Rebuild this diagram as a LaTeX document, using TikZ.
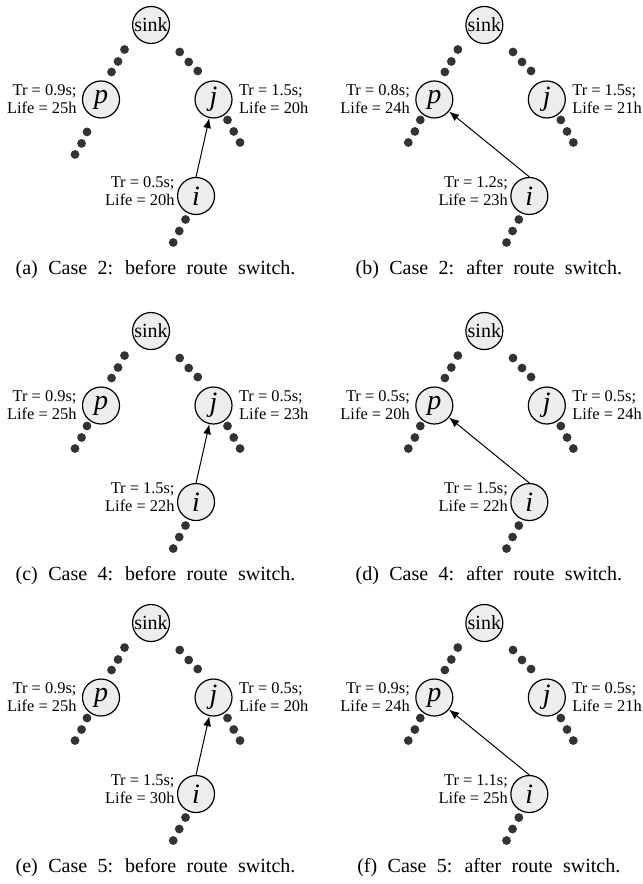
\documentclass[tikz,border=0pt]{standalone}
\usepackage{fontspec}
\setmainfont{Liberation Serif}
\usetikzlibrary{positioning,arrows.meta}

\tikzset{
  mote/.style={circle,draw,line width=0.6pt,fill=black!7,minimum size=0.65cm,inner sep=0pt},
  sinkfont/.style={font=\fontsize{10}{12}\selectfont},
  idfont/.style={font=\fontsize{14}{16}\selectfont\itshape},
  stat/.style={font=\fontsize{8.2}{9}\selectfont,inner sep=0pt},
  hop/.style={fill=black!80},
  route/.style={arrows={-Latex[length=5pt,width=4pt]},line width=0.5pt},
  subcap/.style={anchor=base,font={\fontsize{10}{12}\selectfont\spaceskip=5.2pt\relax}}
}

\begin{document}
\begin{tikzpicture}
\useasboundingbox (0,0) rectangle (11.282,-15.534);
% panels (a)-(f): before / after route switch
\foreach \sx/\sy/\lt/\cs/\wh/\tg/\trp/\lfp/\trj/\lfj/\tri/\lfi/\pd in {
  2.654/-0.439/a/2/before/j/0.9/25/1.5/20/0.5/20/-0.21,
  8.511/-0.439/b/2/after/p/0.8/24/1.5/21/1.2/23/0,
  2.654/-5.817/c/4/before/j/0.9/25/0.5/23/1.5/22/0,
  8.511/-5.817/d/4/after/p/0.5/20/0.5/24/1.5/22/0,
  2.654/-10.948/e/5/before/j/0.9/25/0.5/20/1.5/30/0,
  8.511/-10.948/f/5/after/p/0.9/24/0.5/21/1.1/25/0}{
\begin{scope}[shift={(\sx,\sy)}]
  \node[mote,sinkfont] (sink\lt) at (0,0) {sink};
  \node[mote,idfont] (p\lt) at (-0.879,-1.309) {p};
  \node[mote,idfont] (j\lt) at (1.098,-1.309) {j};
  \node[mote,idfont] (i\lt) at (0.791,-3.005) {i};
  \node[stat,align=right,left=2.5pt of p\lt] (tp\lt) {Tr = \trp s;\\Life = \lfp h};
  \node[stat,align=left,right=3pt of j\lt] (tj\lt) {Tr = \trj s;\\Life = \lfj h};
  \node[stat,align=right,left=1pt of i\lt,yshift=2.5pt] (ti\lt) {Tr = \tri s;\\Life = \lfi h};
  % relay dots
  \foreach \c in {(-0.466,-0.431),(-0.580,-0.641),(-0.694,-0.826),
                  (0.504,-0.474),(0.662,-0.650),(0.821,-0.808),
                  (1.344,-1.669),(1.453,-1.871),(1.564,-2.065),
                  (0.606,-3.418),(0.496,-3.620),(0.390,-3.822)}
    \fill[hop] \c circle (2.2pt);
  \foreach \c in {(-1.125,-1.669),(-1.221,-1.871),(-1.336,-2.065)}
    \fill[hop] \c ++(0,\pd) circle (2.2pt);
  \draw[route] (i\lt.north) -- (\tg\lt);
  \node[subcap] (cap\lt) at (0.079,-4.376) {(\lt) Case \cs: \wh\ route switch.};
\end{scope}
}
\end{tikzpicture}
\end{document}
